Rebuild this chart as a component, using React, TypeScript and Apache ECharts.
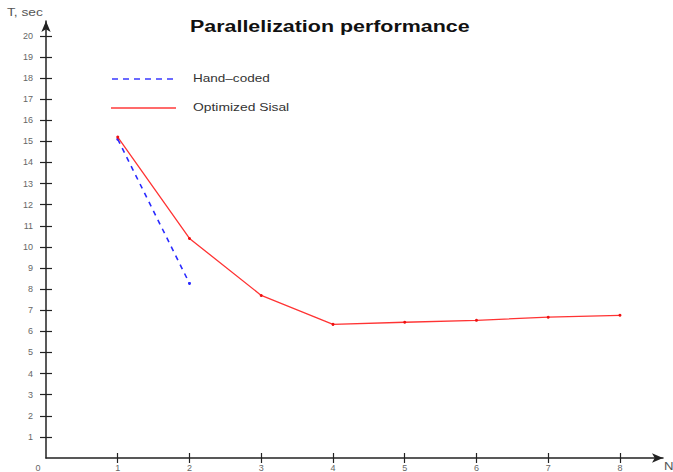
import React, { useEffect, useRef } from "react";
import * as echarts from "echarts";

const nValues = [1, 2, 3, 4, 5, 6, 7, 8];
const sisalTimes = [15.2, 10.4, 7.7, 6.33, 6.43, 6.52, 6.67, 6.76];
const handN = [1, 2];
const handTimes = [15.1, 8.27];
const yTicks = [1, 2, 3, 4, 5, 6, 7, 8, 9, 10, 11, 12, 13, 14, 15, 16, 17, 18, 19, 20];
const xTicks = [0, 1, 2, 3, 4, 5, 6, 7, 8];

const FONT = "'Liberation Sans', Arial, sans-serif";

export default function App() {
  const ref = useRef<HTMLDivElement>(null);
  useEffect(() => {
    if (!ref.current) return;
    const chart = echarts.init(ref.current, null, { renderer: "svg" });
    const axisLineStyle = { color: "#222", width: 1.5 };
    const labelStyle = { color: "#666", fontSize: 9, fontFamily: FONT };
    chart.setOption({
      animation: false,
      backgroundColor: "#fff",
      grid: { left: 46, right: 10, top: 21, bottom: 13, containLabel: false },
      xAxis: [
        {
          type: "value",
          min: 0,
          max: 8.6,
          axisLine: { show: true, lineStyle: axisLineStyle, symbol: ["none", "arrow"], symbolSize: [7, 11] },
          axisTick: { show: true, length: 5, lineStyle: { color: "#222", width: 1.2 }, customValues: xTicks.slice(1) },
          axisLabel: {
            show: true,
            margin: 5,
            customValues: xTicks,
            formatter: (v: number) => (v === 0 ? "{z|0}" : String(v)),
            rich: { z: { padding: [0, 16, 0, 0], color: "#666", fontSize: 9, fontFamily: FONT } },
            ...labelStyle,
          },
          splitLine: { show: false },
        },
        {
          type: "value",
          min: 0,
          max: 8.6,
          position: "bottom",
          axisLine: { show: false },
          axisTick: { show: true, inside: true, length: 5, lineStyle: { color: "#222", width: 1.2 }, customValues: xTicks.slice(1) },
          axisLabel: { show: false },
          splitLine: { show: false },
        },
      ],
      yAxis: [
        {
          type: "value",
          min: 0,
          max: 20.7,
          axisLine: { show: true, lineStyle: axisLineStyle, symbol: ["none", "arrow"], symbolSize: [7, 11] },
          axisTick: { show: true, length: 6, lineStyle: { color: "#222", width: 1.2 }, customValues: yTicks },
          axisLabel: { show: true, margin: 13, customValues: yTicks, ...labelStyle },
          splitLine: { show: false },
        },
        {
          type: "value",
          min: 0,
          max: 20.7,
          position: "left",
          axisLine: { show: false },
          axisTick: { show: true, inside: true, length: 6, lineStyle: { color: "#222", width: 1.2 }, customValues: yTicks },
          axisLabel: { show: false },
          splitLine: { show: false },
        },
      ],
      series: [
        {
          name: "Hand-coded",
          type: "line",
          data: handN.map((n, i) => [n, handTimes[i]]),
          symbol: "circle",
          symbolSize: 3,
          lineStyle: { color: "#2a2aff", width: 1.6, type: [5, 5] },
          itemStyle: { color: "#2a2aff" },
          z: 3,
        },
        {
          name: "Optimized Sisal",
          type: "line",
          data: nValues.map((n, i) => [n, sisalTimes[i]]),
          symbol: "circle",
          symbolSize: 3,
          lineStyle: { color: "#ff3333", width: 1.3 },
          itemStyle: { color: "#ee1111" },
          z: 4,
        },
      ],
      graphic: [
        {
          type: "text",
          x: 190,
          y: 18,
          scaleX: 1.26,
          style: { text: "Parallelization performance", fill: "#111", font: `bold 17px ${FONT}`, verticalAlign: "top" },
        },
        {
          type: "text",
          x: 7,
          y: 7,
          scaleX: 1.25,
          style: { text: "T, sec", fill: "#555", font: `11px ${FONT}`, verticalAlign: "top" },
        },
        {
          type: "text",
          x: 664,
          y: 461,
          scaleX: 1.2,
          style: { text: "N", fill: "#555", font: `11px ${FONT}`, verticalAlign: "top" },
        },
        {
          type: "line",
          shape: { x1: 112, y1: 79, x2: 178, y2: 79 },
          style: { stroke: "#3a3aff", lineWidth: 1.5, lineDash: [6, 5] },
        },
        {
          type: "text",
          x: 193,
          y: 73,
          scaleX: 1.23,
          style: { text: "Hand\u2013coded", fill: "#333", font: `11px ${FONT}`, verticalAlign: "top" },
        },
        {
          type: "line",
          shape: { x1: 111, y1: 108, x2: 176, y2: 108 },
          style: { stroke: "#ff3a3a", lineWidth: 1.5 },
        },
        {
          type: "text",
          x: 193,
          y: 102,
          scaleX: 1.26,
          style: { text: "Optimized Sisal", fill: "#333", font: `11px ${FONT}`, verticalAlign: "top" },
        },
      ],
    });
    return () => chart.dispose();
  }, []);
  return (
    <div
      ref={ref}
      style={{ position: "fixed", left: 0, top: 0, width: 673, height: 472, background: "#fff" }}
    />
  );
}
